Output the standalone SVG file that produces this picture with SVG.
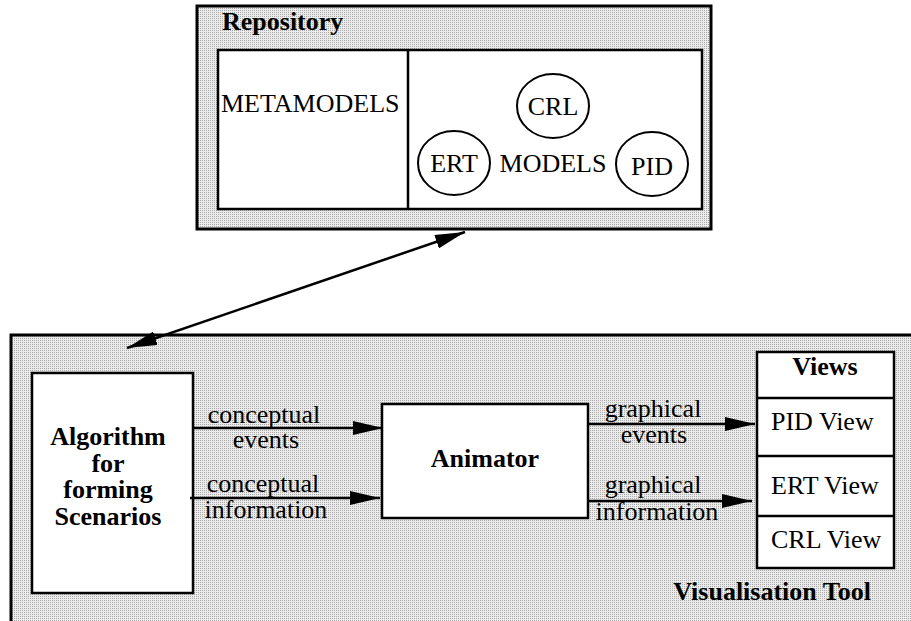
<svg xmlns="http://www.w3.org/2000/svg" width="911" height="621" viewBox="0 0 911 621">
  <defs>
    <!-- fine stipple used for the two container panels -->
    <pattern id="stipple" width="2" height="2" patternUnits="userSpaceOnUse">
      <rect width="2" height="2" fill="#ececec"/>
      <rect width="1" height="1" fill="#a8a8a8"/>
    </pattern>
    <marker id="head" viewBox="0 0 30 14" refX="30" refY="7" markerWidth="30" markerHeight="14" markerUnits="userSpaceOnUse" orient="auto-start-reverse">
      <path d="M0,0 L30,7 L0,14 Z" fill="#000"/>
    </marker>
    <style>
      .panel { fill: url(#stipple); stroke: #000; stroke-width: 3; }
      .box { fill: #fff; stroke: #000; stroke-width: 2.5; }
      .ring { fill: #fff; stroke: #000; stroke-width: 2; }
      .edge { fill: none; stroke: #000; stroke-width: 2.5; }
      text { font-family: "Liberation Serif", "Times New Roman", serif; font-size: 26px; fill: #000; }
      .b { font-weight: bold; }
      .c { text-anchor: middle; }
    </style>
  </defs>

  <!-- Repository panel -->
  <g id="repository">
    <rect class="panel" x="197" y="6" width="514" height="223"/>
    <text class="b" x="222" y="30">Repository</text>
    <rect class="box" x="218" y="50" width="484" height="159"/>
    <line x1="408" y1="50" x2="408" y2="209" stroke="#000" stroke-width="2.5"/>
    <text x="221" y="112">METAMODELS</text>
  </g>
  <g id="models">
    <text class="c" x="553" y="172">MODELS</text>
  </g>
  <g id="crl">
    <ellipse class="ring" cx="553" cy="106" rx="36" ry="32"/>
    <text class="c" x="553" y="115">CRL</text>
  </g>
  <g id="ert">
    <ellipse class="ring" cx="454" cy="163" rx="36" ry="32"/>
    <text class="c" x="454" y="172">ERT</text>
  </g>
  <g id="pid">
    <ellipse class="ring" cx="652" cy="164" rx="36" ry="32"/>
    <text class="c" x="652" y="175">PID</text>
  </g>

  <!-- Visualisation Tool panel -->
  <g id="visualisation-tool">
    <rect class="panel" x="11" y="335" width="910" height="300"/>
    <text class="b" x="871" y="600" text-anchor="end">Visualisation Tool</text>
  </g>

  <g id="algorithm">
    <rect class="box" x="32" y="373" width="161" height="220"/>
    <text class="b c" x="108" y="445">Algorithm</text>
    <text class="b c" x="108" y="472">for</text>
    <text class="b c" x="108" y="498">forming</text>
    <text class="b c" x="108" y="525">Scenarios</text>
  </g>

  <g id="animator">
    <rect class="box" x="382" y="404" width="206" height="114"/>
    <text class="b c" x="485" y="467">Animator</text>
  </g>

  <g id="views">
    <rect class="box" x="757" y="352" width="137" height="216"/>
    <line x1="757" y1="398" x2="894" y2="398" stroke="#000" stroke-width="2.5"/>
    <line x1="757" y1="456" x2="894" y2="456" stroke="#000" stroke-width="2.5"/>
    <line x1="757" y1="516" x2="894" y2="516" stroke="#000" stroke-width="2.5"/>
    <text class="b c" x="825" y="375">Views</text>
    <text x="771" y="430">PID View</text>
    <text x="771" y="494">ERT View</text>
    <text x="771" y="548">CRL View</text>
  </g>

  <!-- connectors -->
  <g id="connectors">
    <line class="edge" x1="127" y1="348" x2="465" y2="232" marker-start="url(#head)" marker-end="url(#head)"/>
    <line class="edge" x1="193" y1="428" x2="383" y2="428" marker-end="url(#head)"/>
    <line class="edge" x1="190" y1="498" x2="380" y2="498" marker-end="url(#head)"/>
    <line class="edge" x1="588" y1="424" x2="755" y2="424" marker-end="url(#head)"/>
    <line class="edge" x1="588" y1="501" x2="752" y2="501" marker-end="url(#head)"/>
    <text class="c" x="264" y="423">conceptual</text>
    <text class="c" x="266" y="448">events</text>
    <text class="c" x="263" y="492">conceptual</text>
    <text class="c" x="266" y="518">information</text>
    <text class="c" x="653" y="417">graphical</text>
    <text class="c" x="654" y="443">events</text>
    <text class="c" x="653" y="493">graphical</text>
    <text class="c" x="657" y="520">information</text>
  </g>
</svg>
